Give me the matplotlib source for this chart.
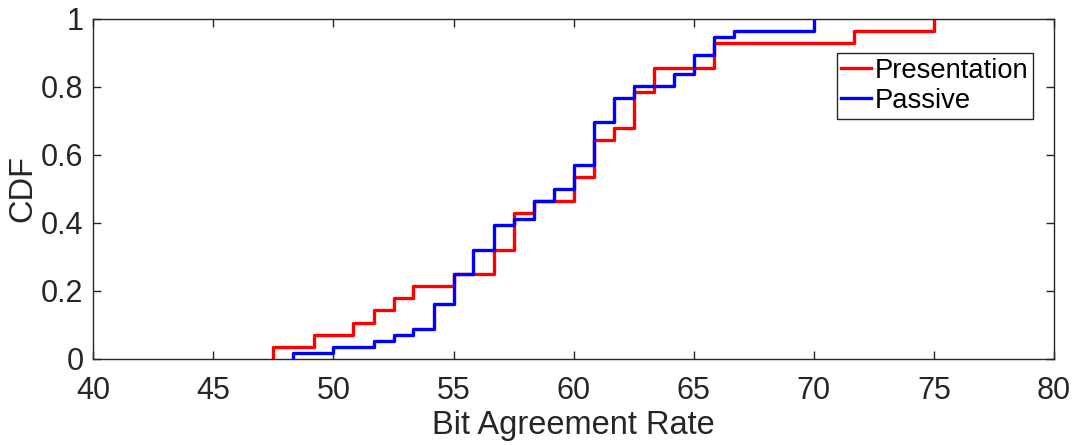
import numpy as np
import matplotlib
matplotlib.use('Agg')
import matplotlib.pyplot as plt

plt.rcParams['font.family'] = ['Liberation Sans', 'DejaVu Sans']

# step positions (Bit Agreement Rate) and CDF level reached at each step
pres_x = [47.5, 49.17, 50.83, 51.67, 52.5, 53.33, 55.0, 56.67, 57.5, 58.33,
          60.0, 60.83, 61.67, 62.5, 63.33, 65.83, 71.67, 75.0]
pres_y = [0.036, 0.071, 0.107, 0.143, 0.179, 0.214, 0.25, 0.321, 0.429, 0.464,
          0.536, 0.643, 0.679, 0.786, 0.857, 0.929, 0.964, 1.0]

pass_x = [48.33, 50.0, 51.67, 52.5, 53.33, 54.17, 55.0, 55.83, 56.67, 57.5,
          58.33, 59.17, 60.0, 60.83, 61.67, 62.5, 64.17, 65.0, 65.83, 66.67, 70.0]
pass_y = [0.018, 0.036, 0.054, 0.071, 0.089, 0.161, 0.25, 0.321, 0.393, 0.411,
          0.464, 0.5, 0.571, 0.696, 0.768, 0.804, 0.839, 0.893, 0.946, 0.964, 1.0]

xticks = [40, 45, 50, 55, 60, 65, 70, 75, 80]
yticks = [0, 0.2, 0.4, 0.6, 0.8, 1]
ytick_labels = ['0', '0.2', '0.4', '0.6', '0.8', '1']

W, H = 1072, 445
fig = plt.figure(figsize=(W / 100, H / 100), dpi=100)
ax = fig.add_axes([93.3 / W, 1 - 359 / H, (1054 - 93.3) / W, 340 / H])

def stairs(xs, ys):
    # ecdf style: start at zero at the first sample, step up, stop at the last
    sx = [xs[0]] + list(xs)
    sy = [0] + list(ys)
    return sx, sy

sx, sy = stairs(pres_x, pres_y)
ax.step(sx, sy, where='post', color='#ff0000', lw=2.4, label='Presentation')
sx, sy = stairs(pass_x, pass_y)
ax.step(sx, sy, where='post', color='#0000ff', lw=2.4, label='Passive')

ax.set_xlim(40, 80)
ax.set_ylim(0, 1)
ax.set_xticks(xticks)
ax.set_yticks(yticks)
ax.set_yticklabels(ytick_labels)

tc = '#262626'
ax.tick_params(direction='in', length=6, width=1.0, colors=tc, labelsize=22,
               top=True, right=True)
ax.tick_params(axis='x', pad=12)
ax.tick_params(axis='y', pad=7)
for s in ax.spines.values():
    s.set_color(tc)
    s.set_linewidth(1.0)

ax.set_xlabel('Bit Agreement Rate', fontsize=23.5, color=tc)
ax.set_ylabel('CDF', fontsize=23.5, color=tc)
ax.xaxis.set_label_coords(0.5, -0.15)
ax.yaxis.set_label_coords(-0.057, 0.5)

leg = ax.legend(loc='upper left', bbox_to_anchor=(836.7 / W, 1 - 53.3 / H),
                bbox_transform=fig.transFigure, fontsize=19.7, frameon=True,
                fancybox=False, edgecolor='#262626', framealpha=1,
                handlelength=1.1, handletextpad=0.12, labelspacing=0.15,
                borderpad=0.17, borderaxespad=0)
leg.get_frame().set_linewidth(1.0)

fig.savefig('out.png', dpi=100)
